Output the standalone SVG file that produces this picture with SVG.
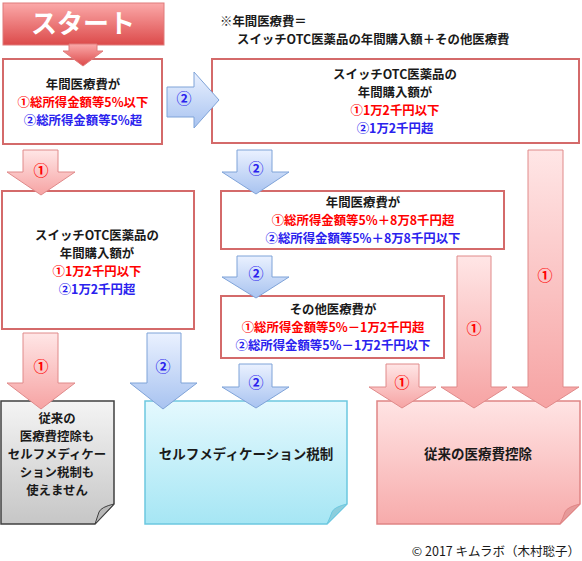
<svg xmlns="http://www.w3.org/2000/svg" width="582" height="561" viewBox="0 0 582 561">
<defs>
<linearGradient id="gStart" x1="0" y1="0" x2="0" y2="1"><stop offset="0" stop-color="#fba9a9"/><stop offset="1" stop-color="#dc4a4a"/></linearGradient>
<linearGradient id="gPink" x1="0" y1="0" x2="0" y2="1"><stop offset="0" stop-color="#ffe6e6"/><stop offset="1" stop-color="#f6a3a3"/></linearGradient>
<linearGradient id="gBlue" x1="0" y1="0" x2="0" y2="1"><stop offset="0" stop-color="#eaf1ff"/><stop offset="1" stop-color="#a8c3f0"/></linearGradient>
<linearGradient id="gGray" x1="0" y1="0" x2="0" y2="1"><stop offset="0" stop-color="#f4f4f4"/><stop offset="1" stop-color="#c6c6c6"/></linearGradient>
<linearGradient id="gCyan" x1="0" y1="0" x2="0" y2="1"><stop offset="0" stop-color="#e4f9fe"/><stop offset="1" stop-color="#a6e6f4"/></linearGradient>
<linearGradient id="gPinkNote" x1="0" y1="0" x2="0" y2="1"><stop offset="0" stop-color="#ffe4e4"/><stop offset="1" stop-color="#f7abab"/></linearGradient>
</defs>
<style>
text{font-family:"Noto Sans CJK JP","Noto Sans",sans-serif;font-weight:bold;font-size:12.4px;fill:#1a1a1a;text-anchor:middle}
.big{font-size:13.5px}
.r{fill:#ff0000}
.b{fill:#2a22ee}
.box{fill:#ffffff;stroke:#d46a6a;stroke-width:2}
.pa{fill:url(#gPink);stroke:#e08a8a;stroke-width:1}
.ba{fill:url(#gBlue);stroke:#7fa3d8;stroke-width:1}
.lbl{font-size:15px;font-weight:bold}
.note{text-anchor:start}
</style>

<g id="start">
<rect x="3" y="3" width="161" height="42" fill="url(#gStart)" stroke="#e07a7a" stroke-width="1"/>
<text x="83" y="33" style="font-size:26px;fill:#ffffff">スタート</text>
</g>

<g id="formula">
<text class="note" x="220" y="25.5">※年間医療費＝</text>
<text class="note" x="237" y="43.5">スイッチOTC医薬品の年間購入額＋その他医療費</text>
</g>

<g id="box1">
<rect class="box" x="3" y="59" width="159" height="85"/>
<text x="83" y="88.5">年間医療費が</text>
<text x="83" y="106.5" class="r">①総所得金額等5%以下</text>
<text x="83" y="124.5" class="b">②総所得金額等5%超</text>
</g>

<g id="box2">
<rect class="box" x="212" y="59" width="367" height="84"/>
<text x="395" y="78.5">スイッチOTC医薬品の</text>
<text x="395" y="96.5">年間購入額が</text>
<text x="395" y="114.5" class="r">①1万2千円以下</text>
<text x="395" y="132.5" class="b">②1万2千円超</text>
</g>

<g id="box3">
<rect class="box" x="2" y="191" width="192" height="138"/>
<text x="97" y="239.5">スイッチOTC医薬品の</text>
<text x="97" y="257.5">年間購入額が</text>
<text x="97" y="275.5" class="r">①1万2千円以下</text>
<text x="97" y="293.5" class="b">②1万2千円超</text>
</g>

<g id="box4">
<rect class="box" x="221" y="191" width="283" height="58"/>
<text x="363" y="206.5">年間医療費が</text>
<text x="363" y="224.5" class="r">①総所得金額等5%＋8万8千円超</text>
<text x="363" y="242.5" class="b">②総所得金額等5%＋8万8千円以下</text>
</g>

<g id="box5">
<rect class="box" x="221" y="296" width="223" height="62"/>
<text x="333" y="313.5">その他医療費が</text>
<text x="333" y="331.5" class="r">①総所得金額等5%－1万2千円超</text>
<text x="333" y="349.5" class="b">②総所得金額等5%－1万2千円以下</text>
</g>

<g id="result-none">
<path d="M1 401 H114 V504 L95 524 H1 Z" fill="url(#gGray)" stroke="#404040" stroke-width="1.5"/>
<path d="M114 504 Q101 507 99 512 Q97 518 95 524 Z" fill="#b8b8b8" stroke="#404040" stroke-width="1"/>
<text x="57" y="422.5">従来の</text>
<text x="57" y="440.5">医療費控除も</text>
<text x="57" y="458.5">セルフメディケー</text>
<text x="57" y="476.5">ション税制も</text>
<text x="57" y="494.5">使えません</text>
</g>

<g id="result-self">
<path d="M145 401 H347 V504 L327 524 H145 Z" fill="url(#gCyan)" stroke="#6cc8e0" stroke-width="1.5"/>
<path d="M347 504 Q334 507 332 512 Q330 518 327 524 Z" fill="#8ccedd" stroke="#6cc8e0" stroke-width="1"/>
<text class="big" x="246" y="459">セルフメディケーション税制</text>
</g>

<g id="result-conv">
<path d="M377 401 H580 V504 L560 524 H377 Z" fill="url(#gPinkNote)" stroke="#e08585" stroke-width="1.5"/>
<path d="M580 504 Q567 507 565 512 Q563 518 560 524 Z" fill="#e69a9a" stroke="#e08585" stroke-width="1"/>
<text class="big" x="478" y="459">従来の医療費控除</text>
</g>

<g id="connectors">
<path d="M69 44 H97 V51 H103 L83 66 L63 51 H69 Z" fill="url(#gStart)" stroke="#e07a7a" stroke-width="1"/>
<path class="ba" d="M167 87 H194 V72 L219 100 L194 128 V117 H167 Z"/>
<text class="lbl b" x="184" y="104">②</text>
<path class="pa" d="M23 150 H58 V172 H75 L41 195 L7 172 H23 Z"/>
<text class="lbl r" x="41" y="176">①</text>
<path class="ba" d="M237 150 H272 V172 H289 L256 194 L222 172 H237 Z"/>
<text class="lbl b" x="256" y="174">②</text>
<path class="ba" d="M237 256 H272 V277 H289 L256 298 L222 277 H237 Z"/>
<text class="lbl b" x="256" y="279">②</text>
<path class="pa" d="M528 150 H563 V387 H579 L546 408 L512 387 H528 Z"/>
<text class="lbl r" x="545" y="281">①</text>
<path class="pa" d="M457 256 H491 V387 H507 L474 408 L441 387 H457 Z"/>
<text class="lbl r" x="474" y="334">①</text>
<path class="pa" d="M386 364 H419 V387 H436 L402 408 L369 387 H386 Z"/>
<text class="lbl r" x="402" y="388">①</text>
<path class="ba" d="M239 364 H272 V387 H289 L256 408 L222 387 H239 Z"/>
<text class="lbl b" x="256" y="388">②</text>
<path class="pa" d="M23 333 H58 V383 H75 L41 409 L7 383 H23 Z"/>
<text class="lbl r" x="41" y="372">①</text>
<path class="ba" d="M147 333 H181 V383 H197 L163 409 L130 383 H147 Z"/>
<text class="lbl b" x="163" y="372">②</text>
</g>

<g id="copyright">
<text x="580" y="556" style="text-anchor:end;font-weight:normal;font-size:12.5px">© 2017 キムラボ（木村聡子）</text>
</g>
</svg>
